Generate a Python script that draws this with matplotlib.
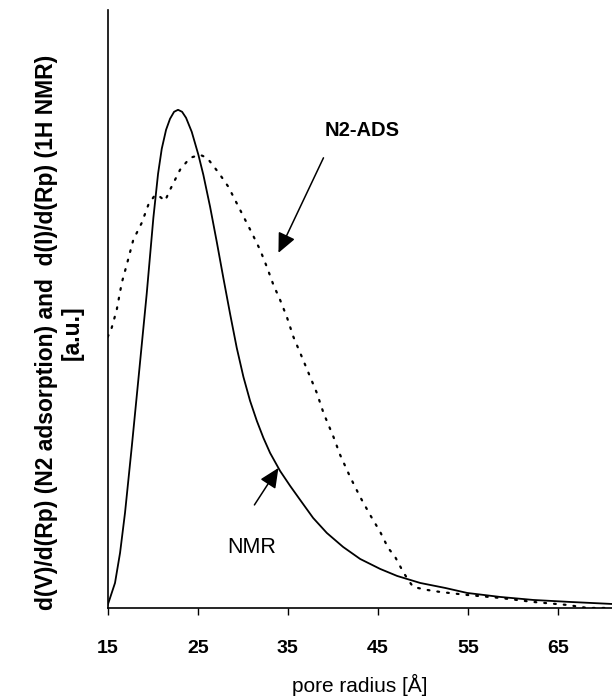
import matplotlib
matplotlib.use("Agg")
import matplotlib.pyplot as plt

plt.rcParams['font.family'] = ['Liberation Sans', 'DejaVu Sans']

# pore radius [Å] and intensity [a.u.]
nmr_r = [15.00, 15.26, 15.81, 16.37, 16.92, 17.67, 18.40, 19.33, 20.07, 20.59,
         21.00, 21.48, 21.92, 22.37, 22.81, 23.26, 23.70, 24.33, 25.07, 25.62,
         26.37, 27.11, 27.84, 28.59, 29.33, 30.07, 30.81, 31.56, 32.29, 33.03,
         34.14, 35.26, 36.37, 37.81, 39.33, 41.14, 43.03, 45.26, 47.14, 49.70,
         52.48, 54.92, 58.59, 62.26, 66.37, 71.00]
nmr_v = [0.03, 0.10, 0.25, 0.55, 0.95, 1.61, 2.28, 3.14, 3.90, 4.34,
         4.59, 4.78, 4.89, 4.96, 4.98, 4.96, 4.90, 4.76, 4.53, 4.33,
         4.01, 3.66, 3.30, 2.94, 2.60, 2.31, 2.07, 1.87, 1.70, 1.55,
         1.37, 1.22, 1.08, 0.90, 0.75, 0.61, 0.49, 0.39, 0.32, 0.25,
         0.20, 0.15, 0.11, 0.08, 0.06, 0.04]

ads_r = [15.00, 15.44, 16.00, 16.56, 17.11, 17.84, 18.78, 19.51, 20.26, 20.81,
         21.37, 21.92, 23.03, 24.14, 25.26, 26.03, 26.73, 27.48, 28.40, 29.70,
         31.00, 31.92, 32.67, 33.40, 34.14, 34.89, 35.62, 36.56, 37.48, 38.22,
         38.96, 40.07, 40.81, 41.92, 43.03, 44.14, 45.26, 46.14, 46.92, 47.81,
         48.37, 48.92, 50.48, 51.92, 54.92, 58.59, 62.26, 66.03, 68.26, 71.00]
ads_v = [2.71, 2.80, 2.98, 3.25, 3.43, 3.68, 3.85, 4.03, 4.13, 4.11,
         4.07, 4.18, 4.38, 4.50, 4.53, 4.50, 4.42, 4.33, 4.21, 3.98,
         3.75, 3.58, 3.41, 3.23, 3.08, 2.91, 2.71, 2.51, 2.31, 2.15,
         1.95, 1.71, 1.53, 1.31, 1.11, 0.93, 0.76, 0.60, 0.51, 0.36,
         0.28, 0.21, 0.18, 0.16, 0.13, 0.10, 0.06, 0.03, 0.00, 0.00]

x_ticks = [15, 25, 35, 45, 55, 65]

fig = plt.figure(figsize=(6.12, 6.98), dpi=100)
ax = fig.add_axes([0.176, 0.129, 0.824, 0.857])

ax.plot(nmr_r, nmr_v, color='black', lw=1.3, solid_joinstyle='round')
ax.plot(ads_r, ads_v, color='black', lw=1.6, linestyle=(0, (0.8, 3.6)),
        dash_capstyle='round')

ax.set_xlim(15, 71)
ax.set_ylim(0, 5.98)
ax.set_xticks(x_ticks)
ax.set_xticklabels([str(t) for t in x_ticks], fontsize=14, fontweight='bold')
ax.set_yticks([])
ax.tick_params(axis='x', direction='out', length=5, width=1.0, pad=18)
for s in ['top', 'right']:
    ax.spines[s].set_visible(False)
for s in ['left', 'bottom']:
    ax.spines[s].set_linewidth(1.2)

fig.text(0.588, 0.019, 'pore radius [Å]', fontsize=15, ha='center',
         va='center')

fig.text(0.097, 0.524,
         'd(V)/d(Rp) (N2 adsorption) and  d(I)/d(Rp) (1H NMR)\n[a.u.]',
         rotation=90, ha='center', va='center', multialignment='center',
         fontsize=16.5, fontweight='bold', linespacing=1.15)

# annotations
ax.annotate('', xy=(33.96, 3.55), xytext=(38.96, 4.50),
            arrowprops=dict(arrowstyle='-|>,head_length=1.2,head_width=0.55',
                            color='black', lw=1.1, shrinkA=0, shrinkB=0))
ax.text(43.26, 4.77, 'N2-ADS', fontsize=14.5, fontweight='bold',
        ha='center', va='center')

ax.annotate('', xy=(33.96, 1.40), xytext=(31.29, 1.03),
            arrowprops=dict(arrowstyle='-|>,head_length=1.2,head_width=0.55',
                            color='black', lw=1.1, shrinkA=0, shrinkB=0))
ax.text(31.04, 0.60, 'NMR', fontsize=15.5, ha='center', va='center')

fig.savefig('out.png', dpi=100)
